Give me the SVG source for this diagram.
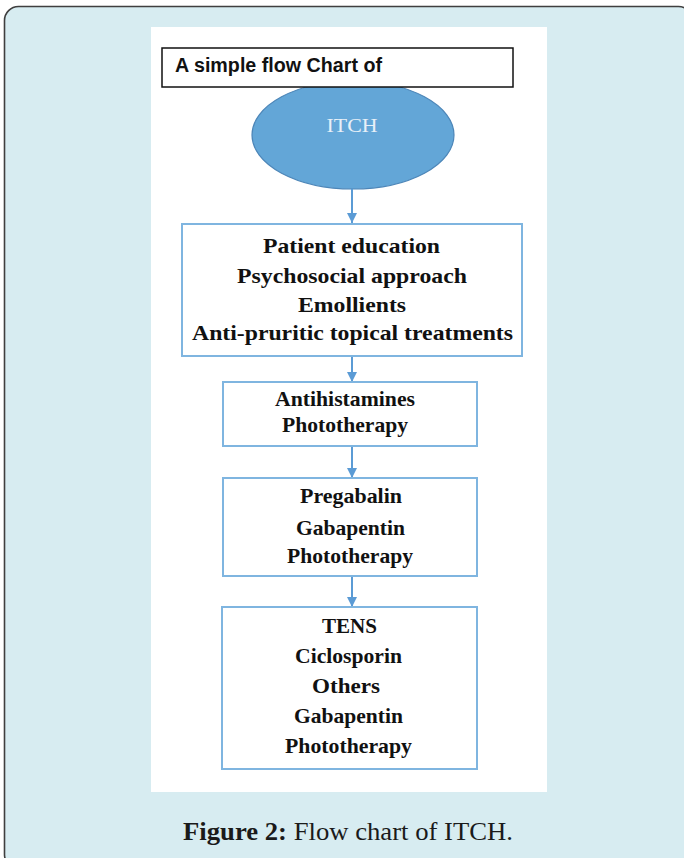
<svg xmlns="http://www.w3.org/2000/svg" width="684" height="858" viewBox="0 0 684 858">
  <style>
    .step { fill: #ffffff; stroke: #7fb5e0; stroke-width: 2; }
    .label { font-family: "Liberation Serif", "Times New Roman", serif; font-weight: bold; font-size: 21px; fill: #111111; text-anchor: middle; }
    .link { stroke: #5b9bd5; stroke-width: 2; fill: none; marker-end: url(#head); }
  </style>
  <defs>
    <marker id="head" viewBox="0 0 10 10" refX="10" refY="5" markerWidth="10" markerHeight="10" markerUnits="userSpaceOnUse" orient="auto">
      <path d="M0,0 L10,5 L0,10 Z" fill="#5b9bd5"/>
    </marker>
  </defs>

  <!-- outer figure frame -->
  <rect x="4.5" y="6.5" width="688" height="862" rx="14" ry="14" fill="#d7ecf1" stroke="#3f3f3f" stroke-width="1.6"/>

  <!-- white chart panel -->
  <rect x="151" y="27" width="396" height="765" fill="#ffffff"/>

  <!-- start ellipse -->
  <g id="itch">
    <ellipse cx="353" cy="135" rx="101" ry="54" fill="#63a6d7" stroke="#4d86b8" stroke-width="1.2"/>
    <text x="352" y="132" font-family="Liberation Serif, Times New Roman, serif" font-size="19" fill="#e8f0f8" text-anchor="middle" textLength="51" lengthAdjust="spacingAndGlyphs">ITCH</text>
  </g>

  <!-- title box -->
  <g id="title">
    <rect x="162" y="48" width="351" height="39" fill="#ffffff" stroke="#111111" stroke-width="1.5"/>
    <text x="175" y="72" font-family="Liberation Sans, Arial, sans-serif" font-weight="bold" font-size="19.5" fill="#111111" textLength="207" lengthAdjust="spacingAndGlyphs">A simple flow Chart of</text>
  </g>

  <!-- connectors -->
  <g id="connectors">
    <line class="link" x1="352" y1="189" x2="352" y2="223"/>
    <line class="link" x1="352" y1="356" x2="352" y2="382"/>
    <line class="link" x1="352" y1="446" x2="352" y2="478"/>
    <line class="link" x1="352" y1="576" x2="352" y2="607"/>
  </g>

  <!-- first-line measures -->
  <g id="step1">
    <rect class="step" x="182" y="224" width="340" height="132"/>
    <text class="label" x="351.5" y="253" textLength="177" lengthAdjust="spacingAndGlyphs">Patient education</text>
    <text class="label" x="352" y="283" textLength="230" lengthAdjust="spacingAndGlyphs">Psychosocial approach</text>
    <text class="label" x="352" y="312" textLength="108" lengthAdjust="spacingAndGlyphs">Emollients</text>
    <text class="label" x="352.5" y="340" textLength="321" lengthAdjust="spacingAndGlyphs">Anti-pruritic topical treatments</text>
  </g>

  <!-- second-line measures -->
  <g id="step2">
    <rect class="step" x="223" y="382" width="254" height="64"/>
    <text class="label" x="345" y="406" textLength="140" lengthAdjust="spacingAndGlyphs">Antihistamines</text>
    <text class="label" x="345" y="432" textLength="126" lengthAdjust="spacingAndGlyphs">Phototherapy</text>
  </g>

  <!-- third-line measures -->
  <g id="step3">
    <rect class="step" x="223" y="478" width="254" height="98"/>
    <text class="label" x="351" y="503" textLength="102" lengthAdjust="spacingAndGlyphs">Pregabalin</text>
    <text class="label" x="350.5" y="535" textLength="109" lengthAdjust="spacingAndGlyphs">Gabapentin</text>
    <text class="label" x="350" y="563" textLength="126" lengthAdjust="spacingAndGlyphs">Phototherapy</text>
  </g>

  <!-- fourth-line measures -->
  <g id="step4">
    <rect class="step" x="222" y="607" width="255" height="162"/>
    <text class="label" x="349.5" y="633" textLength="55" lengthAdjust="spacingAndGlyphs">TENS</text>
    <text class="label" x="348.5" y="663" textLength="107" lengthAdjust="spacingAndGlyphs">Ciclosporin</text>
    <text class="label" x="346" y="693" textLength="68" lengthAdjust="spacingAndGlyphs">Others</text>
    <text class="label" x="348.5" y="723" textLength="109" lengthAdjust="spacingAndGlyphs">Gabapentin</text>
    <text class="label" x="348.5" y="753" textLength="127" lengthAdjust="spacingAndGlyphs">Phototherapy</text>
  </g>

  <!-- caption -->
  <text x="183" y="840" font-family="Liberation Serif, Times New Roman, serif" font-size="25" fill="#1a1a1a" textLength="330" lengthAdjust="spacingAndGlyphs"><tspan font-weight="bold">Figure 2:</tspan> Flow chart of ITCH.</text>
</svg>
